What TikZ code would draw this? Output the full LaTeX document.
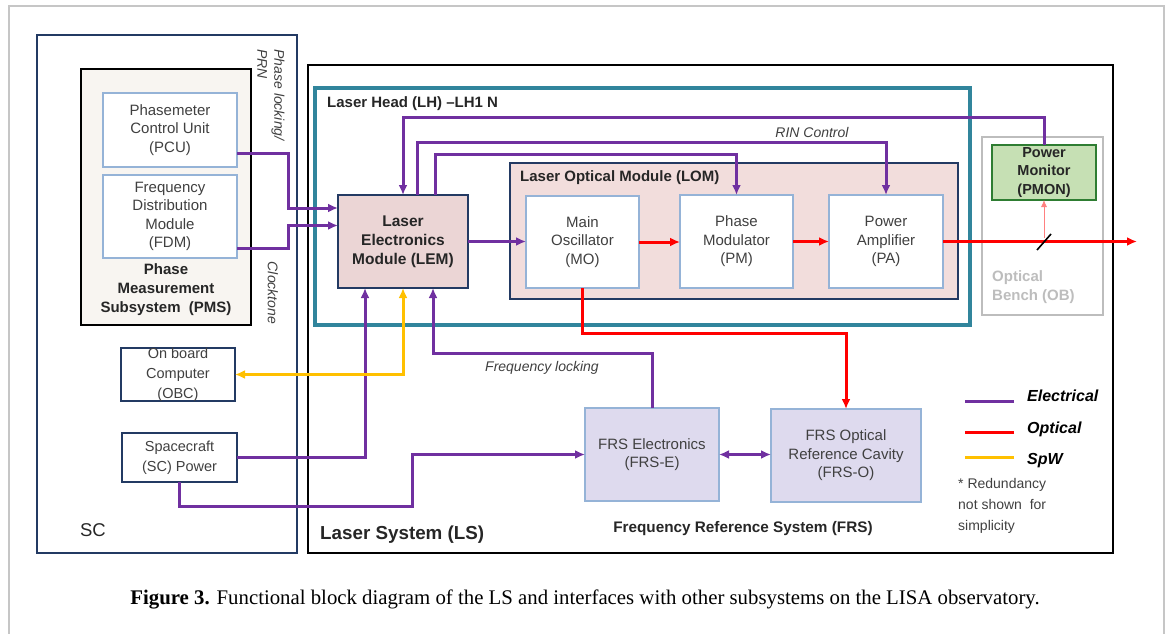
\documentclass[tikz,border=0pt]{standalone}
\usepackage{fontspec}
\setmainfont{Liberation Sans}
\newfontfamily\capfont{Liberation Serif}
\usepackage{tikz}
\usetikzlibrary{arrows.meta}
\definecolor{elecpurple}{HTML}{7030A0}
\definecolor{optred}{HTML}{FF0000}
\definecolor{spwyellow}{HTML}{FFC000}
\definecolor{lhteal}{HTML}{31859C}
\definecolor{navy}{HTML}{233A63}
\definecolor{lblue}{HTML}{95B3D7}
\definecolor{lemfill}{HTML}{EBD5D5}
\definecolor{lomfill}{HTML}{F2DDDC}
\definecolor{frsfill}{HTML}{DEDAEE}
\definecolor{pmonfill}{HTML}{C6E0B4}
\definecolor{pmongreen}{HTML}{2E7D32}
\definecolor{pmsfill}{HTML}{F8F5F1}
\definecolor{obgray}{HTML}{BDBDBD}
\definecolor{txtgray}{HTML}{404040}

\begin{document}
\begin{tikzpicture}[x=1pt,y=-1pt,>={Latex[length=10pt,width=9pt]},
  cont/.style={draw,inner sep=0pt,outer sep=0pt},
  unit/.style={draw=lblue,line width=1.2pt,fill=white,align=center,text=txtgray,
    inner sep=0pt,outer sep=0pt,font=\fontsize{15}{18.5}\selectfont},
  wire/.style={draw=elecpurple,line width=3pt},
  beam/.style={draw=optred,line width=3pt},
  spw/.style={draw=spwyellow,line width=3pt},
  boldlbl/.style={font=\bfseries\fontsize{15}{19}\selectfont,align=center,inner sep=0pt,text=black!85},
  itlbl/.style={font=\itshape\fontsize{14}{17}\selectfont,text=txtgray,inner sep=0pt},
  legendlbl/.style={font=\bfseries\itshape\fontsize{16}{19}\selectfont,anchor=west,inner sep=0pt}]
\useasboundingbox (0,0) rectangle (1171,634);
\draw[gray!45,line width=1.2pt] (9,634) -- (9,6) -- (1164,6) -- (1164,634);

\node[cont,draw=navy,line width=1.6pt,minimum width=260pt,minimum height=518pt] (sc) at (167,294) {};
\node[cont,line width=2.6pt,minimum width=805pt,minimum height=488pt] (ls) at (710.5,309) {};
\node[cont,draw=lhteal,line width=3.6pt,minimum width=655pt,minimum height=237pt] (lh) at (642.5,206.5) {};
\node[cont,fill=pmsfill,line width=2.6pt,minimum width=170pt,minimum height=256pt] (pms) at (166,197) {};
\node[cont,draw=navy,line width=1.8pt,fill=lomfill,minimum width=448pt,minimum height=136pt] (lom) at (734,231) {};
\node[cont,draw=obgray,line width=2.6pt,minimum width=121pt,minimum height=178pt] (ob) at (1042.5,226) {};

\node[unit,minimum width=134pt,minimum height=74pt] (pcu) at (170,130) {Phasemeter\\Control Unit\\(PCU)};
\node[unit,minimum width=134pt,minimum height=83pt] (fdm) at (170,216.5) {Frequency\\Distribution\\Module\\(FDM)};
\node[boldlbl] (pmslbl) at (166,290) {Phase\\Measurement\\Subsystem~ (PMS)};

\node[unit,draw=navy,line width=2.6pt,fill=lemfill,font=\bfseries\fontsize{15.5}{19}\selectfont,text=black!85,
  minimum width=130pt,minimum height=93pt] (lem) at (403,241.5) {Laser\\Electronics\\Module (LEM)};
\node[unit,minimum width=113pt,minimum height=92pt] (mo) at (582.5,242) {Main\\Oscillator\\(MO)};
\node[unit,minimum width=113pt,minimum height=93pt] (pm) at (736.5,241.5) {Phase\\Modulator\\(PM)};
\node[unit,minimum width=114pt,minimum height=93pt] (pa) at (886,241.5) {Power\\Amplifier\\(PA)};
\node[unit,draw=pmongreen,line width=2pt,fill=pmonfill,font=\bfseries\fontsize{14.5}{18.5}\selectfont,text=black!85,
  minimum width=104pt,minimum height=55pt] (pmon) at (1044,172.5) {Power\\Monitor\\(PMON)};

\node[unit,draw=navy,line width=2pt,minimum width=114pt,minimum height=53pt,font=\fontsize{14.5}{20}\selectfont] (obc) at (178,374.5) {On board\\Computer\\(OBC)};
\node[unit,draw=navy,line width=2pt,minimum width=115pt,minimum height=49pt,font=\fontsize{14.5}{20}\selectfont] (scp) at (179.5,457.5) {Spacecraft\\(SC) Power};
\node[unit,fill=frsfill,minimum width=134pt,minimum height=93pt] (frse) at (652,454.5) {FRS Electronics\\(FRS-E)};
\node[unit,fill=frsfill,minimum width=150pt,minimum height=93pt] (frso) at (846,455.5) {FRS Optical\\Reference Cavity\\(FRS-O)};

\node[boldlbl,anchor=west] (lhlbl) at (327,104) {Laser Head (LH) \textendash LH1 N};
\node[boldlbl,anchor=west] (lomlbl) at (520,178) {Laser Optical Module (LOM)};
\node[boldlbl,text=obgray,align=left,anchor=west] (oblbl) at (992,287) {Optical\\Bench (OB)};
\node[boldlbl,font=\bfseries\fontsize{18.8}{22}\selectfont,anchor=west] (lslbl) at (320,535) {Laser System (LS)};
\node[font=\fontsize{18.5}{22}\selectfont,inner sep=0pt,text=black!85] (sclbl) at (93,530) {SC};
\node[boldlbl,font=\bfseries\fontsize{15.3}{18}\selectfont] (frslbl) at (743,529) {Frequency Reference System (FRS)};
\node[itlbl,rotate=-90,align=left] (phlk) at (271,95) {Phase locking/\\PRN};
\node[itlbl,rotate=-90] (cktn) at (273,293) {Clocktone};
\node[itlbl] (rinlbl) at (812,132) {RIN Control};
\node[itlbl] (flklbl) at (542,368) {Frequency locking};

\draw[wire,->] ([yshift=14pt]pcu.south east) -- ++(51,0) |- ([yshift=33.5pt]lem.west);
\draw[wire,->] ([yshift=10pt]fdm.south east) -- ++(51,0) |- ([yshift=16pt]lem.west);
\draw[wire,->] (lem.east) -- (lem.east -| mo.west);
\draw[wire,->] (pmon.north) -- ++(0,-28) -| (lem.north);
\draw[wire,->] ([xshift=14pt]lem.north) -- ++(0,-53) -| (pa.north);
\draw[wire,->] ([xshift=32pt]lem.north) -- ++(0,-41) -| (pm.north);
\draw[wire,->] (frse.north) -- ++(0,-55) -| ([xshift=30pt]lem.south);
\draw[wire,->] (scp.east) -| ([xshift=-38pt]lem.south);
\draw[wire,->] (scp.south) -- ++(0,24) -- ++(232.5,0) |- (frse.west);
\draw[wire,<->] (frse.east) -- (frse.east -| frso.west);
\draw[spw,<->] (obc.east) -| (lem.south);

\coordinate (beamout) at (1137,243);
\coordinate (bs) at (1044,242);
\draw[beam,->] (mo.east) -- (mo.east -| pm.west);
\draw[beam,->] (pm.east) -- (pa.west);
\draw[beam,->] (pa.east) -- (pa.east -| beamout);
\draw[beam,->] (mo.south) -- ++(0,45) -| (frso.north);
\draw[line width=1.6pt] ([shift={(-7,8)}]bs) -- ([shift={(7,-8)}]bs);
\draw[draw=optred!50,line width=0.8pt,-{Latex[length=7pt,width=6pt]}] ([yshift=4pt]bs) -- (pmon.south);

\node[legendlbl] (lgel) at (1027,396) {Electrical};
\node[legendlbl] (lgop) at (1027,429) {Optical};
\node[legendlbl] (lgsp) at (1027,461) {SpW};
\draw[wire] ([xshift=-13pt,yshift=-5pt]lgel.west) -- ++(-49,0);
\draw[beam] ([xshift=-13pt,yshift=-3pt]lgop.west) -- ++(-49,0);
\draw[spw] ([xshift=-13pt,yshift=4pt]lgsp.west) -- ++(-49,0);
\node[anchor=north west,align=left,font=\fontsize{14}{21}\selectfont,text=txtgray,inner sep=0pt] (note) at (958,478) {* Redundancy\\not shown~ for\\simplicity};

\node[font=\capfont\fontsize{20.8}{24}\selectfont,inner sep=0pt] (cap) at (585,599) {\textbf{Figure 3.} Functional block diagram of the LS and interfaces with other subsystems on the LISA observatory.};
\end{tikzpicture}
\end{document}
